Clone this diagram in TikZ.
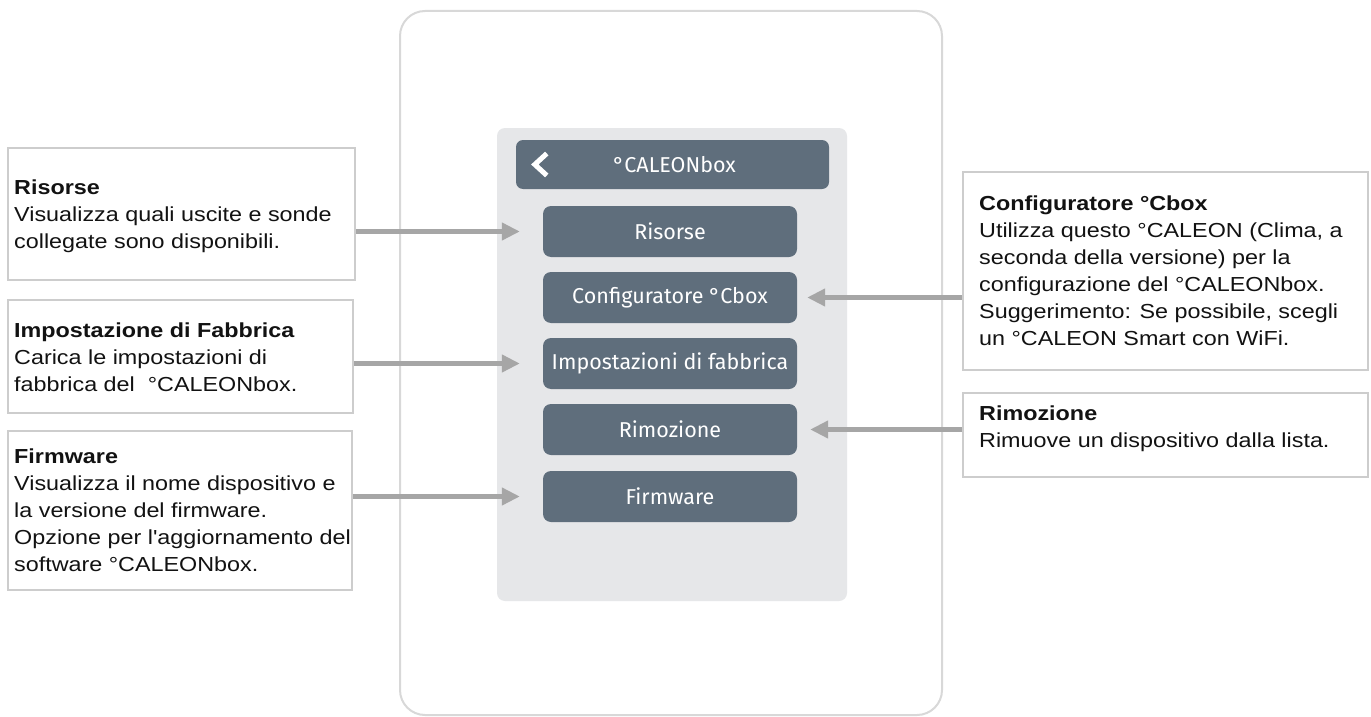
\documentclass[tikz,border=0pt]{standalone}
\usepackage{fontspec}
\setmainfont{Liberation Sans}[FakeStretch=1.15, Ligatures=TeXOff]
\newfontfamily\btnfont{Fira Sans}
\usetikzlibrary{arrows.meta}
\definecolor{btngray}{HTML}{5F6E7C}
\definecolor{panelgray}{HTML}{E6E7E9}
\definecolor{arrgray}{HTML}{A6A6A6}
\definecolor{boxline}{HTML}{CDCDCD}
\definecolor{frameline}{HTML}{D8D8D8}
\tikzset{
  infobox/.style={draw=boxline, line width=1.8pt, fill=white, inner sep=0pt},
  infotext/.style={anchor=north west, inner sep=0pt, align=left, text=black!93, font=\fontsize{20.3}{27}\selectfont},
  btn/.style={fill=btngray, rounded corners=8pt, inner sep=0pt, minimum width=254pt, minimum height=51pt, text=white, font=\btnfont\fontsize{21.5}{24}\selectfont},
  arr/.style={draw=arrgray, line width=4.3pt, -{Triangle[length=18pt,width=17pt]}},
}
\begin{document}
\begin{tikzpicture}[x=1pt,y=-1pt]
\useasboundingbox (0,0) rectangle (1371,717);
% device frame
\node[draw=frameline, line width=2pt, fill=white, rounded corners=25pt, minimum width=542pt, minimum height=704pt, inner sep=0pt] (frame) at (671,363) {};
\node[fill=panelgray, rounded corners=8pt, minimum width=350pt, minimum height=473pt, inner sep=0pt] (panel) at (672,364.5) {};
\node[btn, minimum width=313pt, minimum height=49pt, rounded corners=7pt] (head) at (672.5,164.5) {\hspace*{4pt}°CALEONbox};
\draw[white, line width=5pt] ([shift={(31pt,-11pt)}]head.west) -- ([shift={(19pt,0pt)}]head.west) -- ([shift={(31pt,11pt)}]head.west);
% buttons
\node[btn] (b1) at (670,231.5) {Risorse};
\node[btn] (b2) at (670,297.5) {Configuratore °Cbox};
\node[btn] (b3) at (670,363.5) {Impostazioni di fabbrica};
\node[btn] (b4) at (670,429.5) {Rimozione};
\node[btn] (b5) at (670,496.5) {Firmware};
% left info boxes
\node[infobox, minimum width=347pt, minimum height=132pt] (rbox) at (181.5,214) {};
\node[infotext] (rtext) at (14,180) {\textbf{Risorse}\\Visualizza quali uscite e sonde\\collegate sono disponibili.};
\node[infobox, minimum width=345pt, minimum height=113pt] (ibox) at (180.5,356.5) {};
\node[infotext] (itext) at (14,322.5) {\textbf{Impostazione di Fabbrica}\\Carica le impostazioni di\\fabbrica del \ °CALEONbox.};
\node[infobox, minimum width=344pt, minimum height=159pt] (fbox) at (180,510.5) {};
\node[infotext] (ftext) at (14,448.5) {\textbf{Firmware}\\Visualizza il nome dispositivo e\\la versione del firmware.\\Opzione per l'aggiornamento del\\software °CALEONbox.};
% right info boxes
\node[infobox, minimum width=405pt, minimum height=198pt] (cbox) at (1165.5,271) {};
\node[infotext] (ctext) at (979,195.5) {\textbf{Configuratore °Cbox}\\Utilizza questo °CALEON (Clima, a\\seconda della versione) per la\\configurazione del °CALEONbox.\\Suggerimento: Se possibile, scegli\\un °CALEON Smart con WiFi.};
\node[infobox, minimum width=405pt, minimum height=84pt] (mbox) at (1165.5,435) {};
\node[infotext] (mtext) at (979,405.5) {\textbf{Rimozione}\\Rimuove un dispositivo dalla lista.};
% arrows
\draw[arr] (rbox.east |- b1.west) -- ([xshift=-23pt]b1.west);
\draw[arr] (ibox.east |- b3.west) -- ([xshift=-23pt]b3.west);
\draw[arr] (fbox.east |- b5.west) -- ([xshift=-23pt]b5.west);
\draw[arr] (cbox.west |- b2.east) -- ([xshift=10pt]b2.east);
\draw[arr] (mbox.west |- b4.east) -- ([xshift=13pt]b4.east);
\end{tikzpicture}
\end{document}
